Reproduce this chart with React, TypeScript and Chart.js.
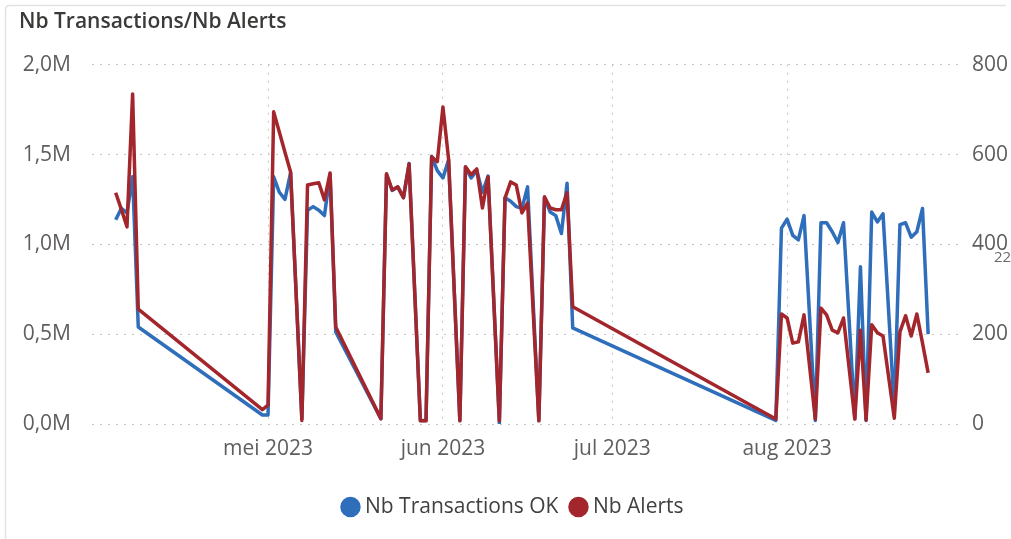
import React, { useEffect, useRef } from "react";
import { Chart, registerables } from "chart.js";

Chart.register(...registerables);

// ---------- data ----------
const dates = [
  "2023-04-04", "2023-04-05", "2023-04-06", "2023-04-07", "2023-04-08",
  "2023-04-30", "2023-05-01", "2023-05-02", "2023-05-03", "2023-05-04", "2023-05-05",
  "2023-05-07", "2023-05-08", "2023-05-09", "2023-05-10", "2023-05-11", "2023-05-12", "2023-05-13",
  "2023-05-21", "2023-05-22", "2023-05-23", "2023-05-24", "2023-05-25", "2023-05-26",
  "2023-05-28", "2023-05-29", "2023-05-30", "2023-05-31", "2023-06-01", "2023-06-02",
  "2023-06-04", "2023-06-05", "2023-06-06", "2023-06-07", "2023-06-08", "2023-06-09",
  "2023-06-11", "2023-06-12", "2023-06-13", "2023-06-14", "2023-06-15", "2023-06-16",
  "2023-06-18", "2023-06-19", "2023-06-20", "2023-06-21", "2023-06-22", "2023-06-23", "2023-06-24",
  "2023-07-30", "2023-07-31", "2023-08-01", "2023-08-02", "2023-08-03", "2023-08-04",
  "2023-08-06", "2023-08-07", "2023-08-08", "2023-08-09", "2023-08-10", "2023-08-11",
  "2023-08-13", "2023-08-14", "2023-08-15", "2023-08-16", "2023-08-17", "2023-08-18",
  "2023-08-20", "2023-08-21", "2023-08-22", "2023-08-23", "2023-08-24", "2023-08-25", "2023-08-26",
];

const transactionsOK = [
  1137000, 1200000, 1175000, 1376000, 540000,
  50000, 50000, 1376000, 1290000, 1250000, 1400000,
  30000, 1190000, 1210000, 1190000, 1160000, 1390000, 513000,
  30000, 1390000, 1300000, 1320000, 1260000, 1450000,
  20000, 20000, 1490000, 1410000, 1370000, 1470000,
  20000, 1430000, 1370000, 1410000, 1290000, 1380000,
  5000, 1260000, 1240000, 1210000, 1200000, 1320000,
  20000, 1260000, 1180000, 1160000, 1060000, 1340000, 535000,
  20000, 1090000, 1140000, 1050000, 1025000, 1160000,
  20000, 1120000, 1120000, 1070000, 1010000, 1120000,
  30000, 875000, 20000, 1180000, 1125000, 1170000,
  80000, 1110000, 1120000, 1040000, 1070000, 1200000, 500000,
];

const alerts = [
  515, 478, 439, 735, 256,
  32, 42, 695, 650, 605, 561,
  8, 532, 535, 537, 499, 559, 216,
  12, 557, 521, 528, 504, 579,
  7, 7, 595, 584, 706, 590,
  7, 573, 555, 568, 481, 550,
  7, 503, 539, 532, 470, 492,
  7, 506, 481, 477, 477, 515, 261,
  11, 245, 236, 180, 183, 243,
  11, 258, 243, 209, 203, 236,
  11, 209, 9, 221, 203, 196,
  13, 205, 241, 196, 245, 180, 114,
];

const monthTicks = ["2023-05-01", "2023-06-01", "2023-07-01", "2023-08-01"];
const monthLabels = ["mei 2023", "jun 2023", "jul 2023", "aug 2023"];
const leftTicks = [0, 500000, 1000000, 1500000, 2000000];
const leftTickLabels = ["0,0M", "0,5M", "1,0M", "1,5M", "2,0M"];
const rightTicks = [0, 200, 400, 600, 800];
const rightTickLabels = ["0", "200", "400", "600", "800"];

// ---------- helpers / styles ----------
const toDay = (s: string) =>
  Date.UTC(+s.slice(0, 4), +s.slice(5, 7) - 1, +s.slice(8, 10)) / 86400000;

const BLUE = "#2F6EBA";
const RED = "#A3262C";
const FONT = "'Open Sans', 'Noto Sans', sans-serif";
const TICK_COLOR = "#605E5C";
const GRID_COLOR = "#C8C6C4";

const framePlugin = {
  id: "frame",
  beforeDraw(chart: any) {
    const ctx = chart.ctx;
    ctx.save();
    ctx.strokeStyle = "#E3E3E3";
    ctx.lineWidth = 1.5;
    ctx.beginPath();
    ctx.moveTo(5.5, 545);
    ctx.lineTo(5.5, 10);
    ctx.quadraticCurveTo(5.5, 5.5, 10, 5.5);
    ctx.lineTo(1006, 5.5);
    ctx.stroke();
    ctx.restore();
  },
  afterDraw(chart: any) {
    const ctx = chart.ctx;
    ctx.save();
    ctx.fillStyle = "#6A6A6A";
    ctx.font = `15px ${FONT}`;
    ctx.textBaseline = "alphabetic";
    ctx.fillText("22", 994, 262);
    ctx.restore();
  },
};

export default function App() {
  const ref = useRef<HTMLCanvasElement | null>(null);

  useEffect(() => {
    document.body.style.margin = "0";
    if (!ref.current) return;
    const monthDays = monthTicks.map(toDay);

    const chart = new Chart(ref.current, {
      type: "line",
      data: {
        datasets: [
          {
            label: "Nb Transactions OK",
            data: dates.map((d, i) => ({ x: toDay(d), y: transactionsOK[i] })),
            yAxisID: "y",
            borderColor: BLUE,
            backgroundColor: BLUE,
            borderWidth: 3.5,
            pointRadius: 0,
            tension: 0,
            borderJoinStyle: "round",
            order: 1,
          },
          {
            label: "Nb Alerts",
            data: dates.map((d, i) => ({ x: toDay(d), y: alerts[i] })),
            yAxisID: "y1",
            borderColor: RED,
            backgroundColor: RED,
            borderWidth: 3.5,
            pointRadius: 0,
            tension: 0,
            borderJoinStyle: "round",
            order: 0,
          },
        ],
      },
      options: {
        responsive: false,
        animation: false,
        events: [],
        layout: { padding: { left: 19, right: 0, top: 0, bottom: 11.5 } },
        plugins: {
          tooltip: { enabled: false },
          title: {
            display: true,
            text: "Nb Transactions/Nb Alerts",
            align: "start",
            color: "#3B3A39",
            font: { family: FONT, size: 21, weight: "600" },
            padding: { top: 9, bottom: 30.5 },
          },
          legend: {
            position: "bottom",
            align: "center",
            labels: {
              usePointStyle: true,
              pointStyle: "circle",
              boxWidth: 8,
              boxHeight: 12,
              padding: 16,
              color: "#404040",
              font: { family: FONT, size: 21 },
              sort: (a: any, b: any) => a.datasetIndex - b.datasetIndex,
            },
          },
        },
        scales: {
          x: {
            type: "linear",
            min: toDay("2023-05-01") - 31.2,
            max: toDay("2023-08-01") + 31.0,
            afterBuildTicks: (s: any) => {
              s.ticks = monthDays.map((v) => ({ value: v }));
            },
            afterFit: (s: any) => {
              s.height = 56.5;
            },
            ticks: {
              autoSkip: false,
              maxRotation: 0,
              padding: 12.5,
              color: TICK_COLOR,
              font: { family: FONT, size: 21 },
              callback: (v: any) => {
                const i = monthDays.indexOf(v);
                return i >= 0 ? monthLabels[i] : "";
              },
            },
            grid: { drawTicks: false, color: GRID_COLOR, lineWidth: 1 },
            border: { display: false, dash: [2, 6] },
          },
          y: {
            position: "left",
            min: 0,
            max: 2000000,
            afterBuildTicks: (s: any) => {
              s.ticks = leftTicks.map((v) => ({ value: v }));
            },
            afterFit: (s: any) => {
              s.width = 73;
            },
            ticks: {
              padding: 21,
              color: TICK_COLOR,
              font: { family: FONT, size: 21 },
              callback: (v: any) => {
                const i = leftTicks.indexOf(v);
                return i >= 0 ? leftTickLabels[i] : "";
              },
            },
            grid: { drawTicks: false, color: GRID_COLOR, lineWidth: 1 },
            border: { display: false, dash: [2, 6] },
          },
          y1: {
            position: "right",
            min: 0,
            max: 800,
            afterBuildTicks: (s: any) => {
              s.ticks = rightTicks.map((v) => ({ value: v }));
            },
            afterFit: (s: any) => {
              s.width = 49;
            },
            ticks: {
              padding: 10,
              color: TICK_COLOR,
              font: { family: FONT, size: 21 },
              callback: (v: any) => {
                const i = rightTicks.indexOf(v);
                return i >= 0 ? rightTickLabels[i] : "";
              },
            },
            grid: { display: false, drawTicks: false },
            border: { display: false },
          },
        },
      },
      plugins: [framePlugin],
    } as any);

    return () => chart.destroy();
  }, []);

  return (
    <div style={{ width: 1011, height: 539, background: "#FFFFFF" }}>
      <canvas ref={ref} width={1011} height={539} style={{ display: "block" }} />
    </div>
  );
}
